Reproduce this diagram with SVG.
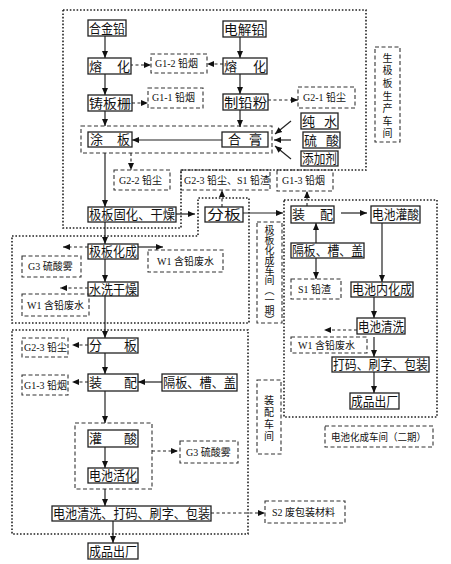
<svg xmlns="http://www.w3.org/2000/svg" width="451" height="564" viewBox="0 0 451 564">
<style>
.bg{fill:#fff}
.n{fill:#fff;stroke:#222;stroke-width:1.3}
.t{font-family:"Noto Sans CJK SC","Liberation Sans",sans-serif;font-size:13px;fill:#111}
.d{fill:none;stroke:#333;stroke-width:1.1;stroke-dasharray:4 2.5}
.dot{fill:none;stroke:#222;stroke-width:1.6;stroke-dasharray:1.6 1.8}
.s{font-family:"Liberation Serif","Noto Sans CJK SC",serif;font-size:10px;fill:#111}
.v{font-family:"Noto Sans CJK SC",sans-serif;font-size:10px;fill:#111;writing-mode:vertical-rl}
.c{fill:none;stroke:#222;stroke-width:1.2}
.cd{fill:none;stroke:#222;stroke-width:1.1;stroke-dasharray:3 2.5}
</style>
<defs>
<marker id="ah" markerUnits="userSpaceOnUse" markerWidth="8" markerHeight="8" refX="7" refY="4" orient="auto">
<path d="M0,1 L7,4 L0,7 Z" fill="#111"/>
</marker>
</defs>
<rect class="bg" x="0" y="0" width="451" height="564"/>

<g id="regions">
<polygon class="dot" points="63,10 366,10 366,170 181,170 181,228 63,228"/>
<polygon class="dot" points="12,236 198,236 198,198 249,198 249,323 12,323"/>
<rect class="dot" x="12" y="330" width="236" height="204"/>
<rect class="dot" x="284" y="200" width="153" height="217"/>
<rect class="d" x="81" y="126" width="191" height="27"/>
<rect class="d" x="75" y="423" width="77" height="66"/>
</g>

<g id="labels">
<rect class="d" x="375" y="47" width="25" height="95"/>
<text class="v" x="387.5" y="53" style="letter-spacing:2.6px">生极板生产车间</text>
<rect class="d" x="257" y="222" width="25" height="101"/>
<text class="v" x="269.5" y="225">极板化成车间（一期）</text>
<rect class="d" x="257" y="380" width="24" height="74"/>
<text class="v" x="269" y="395" style="letter-spacing:2px">装配车间</text>
<rect class="d" x="325" y="426" width="108" height="21"/>
<text class="s" x="331" y="441" textLength="95" lengthAdjust="spacingAndGlyphs" style="font-family:'Noto Sans CJK SC',sans-serif">电池化成车间（二期）</text>
</g>

<g id="connectors">
<line class="c" x1="105" y1="36" x2="105" y2="58" marker-end="url(#ah)"/>
<line class="c" x1="105" y1="74" x2="105" y2="95" marker-end="url(#ah)"/>
<line class="c" x1="105" y1="111" x2="105" y2="126" marker-end="url(#ah)"/>
<line class="c" x1="240" y1="37" x2="240" y2="58" marker-end="url(#ah)"/>
<line class="c" x1="240" y1="73" x2="240" y2="94" marker-end="url(#ah)"/>
<line class="c" x1="240" y1="110" x2="240" y2="127" marker-end="url(#ah)"/>
<line class="c" x1="222" y1="140" x2="132" y2="140" marker-end="url(#ah)"/>
<line class="c" x1="291" y1="121" x2="275" y2="134" marker-end="url(#ah)"/>
<line class="c" x1="291" y1="140" x2="274" y2="140" marker-end="url(#ah)"/>
<line class="c" x1="291" y1="159" x2="275" y2="146" marker-end="url(#ah)"/>
<line class="c" x1="105" y1="153" x2="105" y2="207" marker-end="url(#ah)"/>
<line class="c" x1="176" y1="214" x2="195" y2="214" marker-end="url(#ah)"/>
<line class="c" x1="243" y1="213" x2="283" y2="213" marker-end="url(#ah)"/>
<line class="c" x1="341" y1="213" x2="367" y2="213" marker-end="url(#ah)"/>
<line class="c" x1="316" y1="243" x2="316" y2="223" marker-end="url(#ah)"/>
<line class="c" x1="316" y1="258" x2="316" y2="279" marker-end="url(#ah)"/>
<line class="c" x1="382" y1="223" x2="382" y2="282" marker-end="url(#ah)"/>
<line class="c" x1="374" y1="297" x2="374" y2="318" marker-end="url(#ah)"/>
<line class="c" x1="374" y1="337" x2="374" y2="357" marker-end="url(#ah)"/>
<line class="c" x1="374" y1="372" x2="374" y2="393" marker-end="url(#ah)"/>
<line class="c" x1="105" y1="222" x2="105" y2="244" marker-end="url(#ah)"/>
<line class="c" x1="138" y1="247" x2="163" y2="247" marker-end="url(#ah)"/>
<line class="c" x1="105" y1="259" x2="105" y2="282" marker-end="url(#ah)"/>
<line class="c" x1="105" y1="296" x2="105" y2="338" marker-end="url(#ah)"/>
<line class="c" x1="105" y1="353" x2="105" y2="374" marker-end="url(#ah)"/>
<line class="c" x1="162" y1="382" x2="138" y2="382" marker-end="url(#ah)"/>
<line class="c" x1="105" y1="391" x2="105" y2="423" marker-end="url(#ah)"/>
<line class="c" x1="105" y1="447" x2="105" y2="468" marker-end="url(#ah)"/>
<line class="c" x1="105" y1="489" x2="105" y2="506" marker-end="url(#ah)"/>
<line class="c" x1="113" y1="521" x2="113" y2="543" marker-end="url(#ah)"/>
<line class="cd" x1="130" y1="65" x2="151" y2="65" marker-end="url(#ah)"/>
<line class="cd" x1="223" y1="64" x2="207" y2="64" marker-end="url(#ah)"/>
<line class="cd" x1="132" y1="103" x2="148" y2="103" marker-end="url(#ah)"/>
<line class="cd" x1="268" y1="100" x2="298" y2="100" marker-end="url(#ah)"/>
<line class="cd" x1="131" y1="153" x2="131" y2="170" marker-end="url(#ah)"/>
<line class="cd" x1="222" y1="207" x2="222" y2="190" marker-end="url(#ah)"/>
<line class="cd" x1="307" y1="206" x2="307" y2="191" marker-end="url(#ah)"/>
<line class="cd" x1="88" y1="247" x2="63" y2="247" marker-end="url(#ah)"/>
<line class="cd" x1="88" y1="288" x2="60" y2="288" marker-end="url(#ah)"/>
<line class="cd" x1="357" y1="330" x2="324" y2="330" marker-end="url(#ah)"/>
<line class="cd" x1="88" y1="345" x2="72" y2="345" marker-end="url(#ah)"/>
<line class="cd" x1="88" y1="382" x2="72" y2="382" marker-end="url(#ah)"/>
<line class="cd" x1="152" y1="451" x2="178" y2="451" marker-end="url(#ah)"/>
<line class="cd" x1="211" y1="513" x2="265" y2="513" marker-end="url(#ah)"/>
</g>

<g id="n_hejinqian"><rect class="n" x="88" y="20" width="38" height="16"/><text class="t" x="89" y="33" textLength="36" lengthAdjust="spacingAndGlyphs">合金铅</text></g>
<g id="n_dianjieqian"><rect class="n" x="223" y="21" width="43" height="16"/><text class="t" x="224" y="34" textLength="41" lengthAdjust="spacingAndGlyphs">电解铅</text></g>
<g id="n_ronghua1"><rect class="n" x="88" y="58" width="43" height="16"/><text class="t" x="89" y="71" textLength="41" lengthAdjust="spacing">熔化</text></g>
<g id="n_ronghua2"><rect class="n" x="223" y="58" width="44" height="16"/><text class="t" x="224" y="71" textLength="42" lengthAdjust="spacing">熔化</text></g>
<g id="g12"><rect class="d" x="151" y="54" width="56" height="19"/><text class="s" x="155" y="67">G1-2  铅烟</text></g>
<g id="n_zhubanshan"><rect class="n" x="88" y="95" width="44" height="16"/><text class="t" x="89" y="108" textLength="42" lengthAdjust="spacingAndGlyphs">铸板栅</text></g>
<g id="g11"><rect class="d" x="148" y="88" width="55" height="20"/><text class="s" x="152" y="101">G1-1  铅烟</text></g>
<g id="n_zhiqianfen"><rect class="n" x="223" y="94" width="45" height="16"/><text class="t" x="224" y="107" textLength="43" lengthAdjust="spacingAndGlyphs">制铅粉</text></g>
<g id="g21"><rect class="d" x="298" y="87" width="57" height="21"/><text class="s" x="303" y="101">G2-1  铅尘</text></g>
<g id="n_tuban"><rect class="n" x="88" y="132" width="44" height="15"/><text class="t" x="90" y="144" textLength="40" lengthAdjust="spacing">涂板</text></g>
<g id="n_hegao"><rect class="n" x="222" y="132" width="46" height="15"/><text class="t" x="228" y="144" textLength="34" lengthAdjust="spacing">合膏</text></g>
<g id="n_chunshui"><rect class="n" x="301" y="113" width="37" height="16"/><text class="t" x="302" y="126" textLength="35" lengthAdjust="spacing">纯水</text></g>
<g id="n_liusuan"><rect class="n" x="303" y="132" width="37" height="16"/><text class="t" x="304" y="145" textLength="35" lengthAdjust="spacing">硫酸</text></g>
<g id="n_tianjiaji"><rect class="n" x="301" y="151" width="37" height="15"/><text class="t" x="302" y="163" textLength="35" lengthAdjust="spacingAndGlyphs">添加剂</text></g>
<g id="g22"><rect class="d" x="114" y="170" width="56" height="20"/><text class="s" x="119" y="184">G2-2  铅尘</text></g>
<g id="g23s1"><rect class="d" x="181" y="170" width="89" height="20"/><text class="s" x="184" y="184">G2-3  铅尘、S1 铅渣</text></g>
<g id="g13a"><rect class="d" x="277" y="170" width="56" height="21"/><text class="s" x="282" y="184">G1-3  铅烟</text></g>
<g id="n_gubanguhua"><rect class="n" x="88" y="207" width="88" height="15"/><text class="t" x="89" y="219" textLength="86" lengthAdjust="spacingAndGlyphs">极板固化、干燥</text></g>
<g id="n_fenban1"><rect class="n" x="205" y="207" width="38" height="15"/><text class="t" x="207" y="219" textLength="34" lengthAdjust="spacingAndGlyphs">分板</text></g>
<g id="n_zhuangpei1"><rect class="n" x="291" y="206" width="43" height="17"/><text class="t" x="292" y="219" textLength="41" lengthAdjust="spacing">装配</text></g>
<g id="n_chiguansuan"><rect class="n" x="371" y="206" width="49" height="17"/><text class="t" x="372" y="219" textLength="47" lengthAdjust="spacingAndGlyphs">电池灌酸</text></g>
<g id="n_geban1"><rect class="n" x="291" y="243" width="73" height="15"/><text class="t" x="292" y="255" textLength="71" lengthAdjust="spacingAndGlyphs">隔板、槽、盖</text></g>
<g id="s1"><rect class="d" x="291" y="279" width="50" height="20"/><text class="s" x="298" y="293">S1 铅渣</text></g>
<g id="n_neihuacheng"><rect class="n" x="351" y="282" width="62" height="15"/><text class="t" x="352" y="294" textLength="60" lengthAdjust="spacingAndGlyphs">电池内化成</text></g>
<g id="n_qingxi1"><rect class="n" x="357" y="318" width="48" height="16"/><text class="t" x="358" y="331" textLength="46" lengthAdjust="spacingAndGlyphs">电池清洗</text></g>
<g id="w1c"><rect class="d" x="291" y="337" width="76" height="16"/><text class="s" x="298" y="349">W1 含铅废水</text></g>
<g id="n_dama1"><rect class="n" x="332" y="357" width="97" height="15"/><text class="t" x="333" y="369" textLength="95" lengthAdjust="spacingAndGlyphs">打码、刷字、包装</text></g>
<g id="n_chengpin1"><rect class="n" x="350" y="393" width="49" height="16"/><text class="t" x="351" y="406" textLength="47" lengthAdjust="spacingAndGlyphs">成品出厂</text></g>
<g id="n_jibanhuacheng"><rect class="n" x="88" y="244" width="50" height="15"/><text class="t" x="89" y="256" textLength="48" lengthAdjust="spacingAndGlyphs">极板化成</text></g>
<g id="g3a"><rect class="d" x="22" y="256" width="59" height="21"/><text class="s" x="28" y="270">G3  硫酸雾</text></g>
<g id="w1a"><rect class="d" x="148" y="250" width="75" height="22"/><text class="s" x="157" y="265">W1 含铅废水</text></g>
<g id="n_shuixi"><rect class="n" x="88" y="282" width="50" height="14"/><text class="t" x="89" y="294" textLength="48" lengthAdjust="spacingAndGlyphs">水洗干燥</text></g>
<g id="w1b"><rect class="d" x="22" y="294" width="67" height="22"/><text class="s" x="27" y="309">W1 含铅废水</text></g>
<g id="n_fenban2"><rect class="n" x="88" y="338" width="50" height="15"/><text class="t" x="89" y="350" textLength="48" lengthAdjust="spacing">分板</text></g>
<g id="g23"><rect class="d" x="22" y="338" width="46" height="19"/><text class="s" x="24" y="351">G2-3  铅尘</text></g>
<g id="n_zhuangpei2"><rect class="n" x="88" y="374" width="50" height="17"/><text class="t" x="89" y="387" textLength="48" lengthAdjust="spacing">装配</text></g>
<g id="g13b"><rect class="d" x="22" y="375" width="46" height="20"/><text class="s" x="24" y="389">G1-3  铅烟</text></g>
<g id="n_geban2"><rect class="n" x="162" y="374" width="75" height="17"/><text class="t" x="163" y="387" textLength="73" lengthAdjust="spacingAndGlyphs">隔板、槽、盖</text></g>
<g id="n_guansuan"><rect class="n" x="88" y="430" width="50" height="17"/><text class="t" x="89" y="443" textLength="48" lengthAdjust="spacing">灌酸</text></g>
<g id="g3b"><rect class="d" x="180" y="441" width="58" height="22"/><text class="s" x="186" y="456">G3  硫酸雾</text></g>
<g id="n_huohua"><rect class="n" x="88" y="468" width="50" height="15"/><text class="t" x="89" y="480" textLength="48" lengthAdjust="spacingAndGlyphs">电池活化</text></g>
<g id="n_qingxi2"><rect class="n" x="52" y="506" width="159" height="15"/><text class="t" x="53" y="518" textLength="157" lengthAdjust="spacingAndGlyphs">电池清洗、打码、刷字、包装</text></g>
<g id="s2"><rect class="d" x="265" y="501" width="80" height="22"/><text class="s" x="272" y="516">S2  废包装材料</text></g>
<g id="n_chengpin2"><rect class="n" x="88" y="543" width="50" height="16"/><text class="t" x="89" y="556" textLength="48" lengthAdjust="spacingAndGlyphs">成品出厂</text></g>
</svg>
